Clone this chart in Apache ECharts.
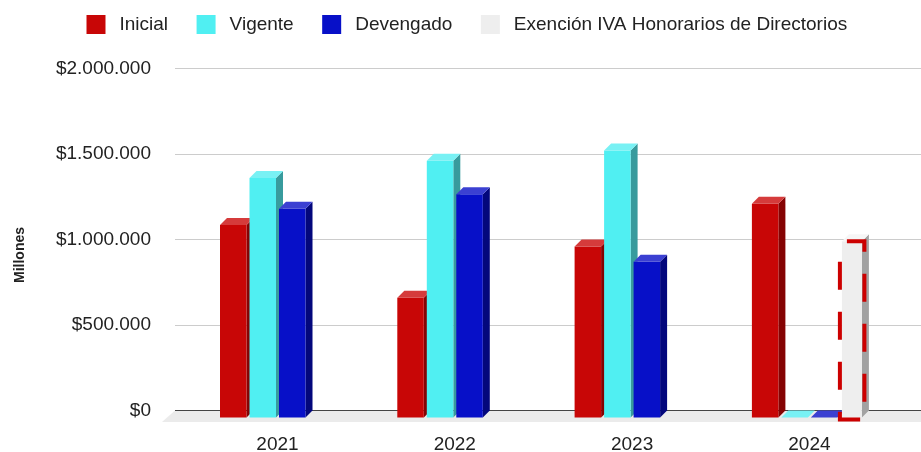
<!DOCTYPE html>
<html>
<head>
<meta charset="utf-8">
<script src="https://cdn.jsdelivr.net/npm/echarts@6/dist/echarts.min.js"></script>
<style>
html,body{margin:0;padding:0;background:#fff;}
#chart{width:921px;height:452px;}
</style>
</head>
<body>
<div id="chart"></div>
<script>
// ---- data ----
const categories = ['2021', '2022', '2023', '2024'];
const seriesNames = ['Inicial', 'Vigente', 'Devengado', 'Exención IVA Honorarios de Directorios'];
const inicial = [1125000, 700000, 1000000, 1250000];
const vigente = [1400000, 1500000, 1560000, 0];
const devengado = [1220000, 1305000, 910000, 0];
const exencion = [null, null, null, 1030000];
const yTicks = [0, 500000, 1000000, 1500000, 2000000];
const axisTitle = 'Millones';

// ---- style ----
const FONT = 'Arial, "Liberation Sans", sans-serif';
const BW = 26.5, GAP = 3, SLOTS = 4, DX = 7, DY = 7;
const GROUP = SLOTS * BW + (SLOTS - 1) * GAP;
const palette = [
  {front: '#c80606', side: '#850303', top: '#d53b3b'},
  {front: '#50eff2', side: '#389b9d', top: '#78f1f4'},
  {front: '#0710c8', side: '#03077c', top: '#3b40d2'},
  {front: '#eeeeee', side: '#a2a2a2', top: '#f6f6f6'}
];

function fmt(v) {
  return '$' + String(v).replace(/\B(?=(\d{3})+(?!\d))/g, '.');
}

function make3D(k, values) {
  const c = palette[k];
  return {
    name: seriesNames[k],
    type: 'custom',
    xAxisIndex: 1, yAxisIndex: 1,
    z: 3,
    itemStyle: {color: c.front},
    encode: {x: 0, y: 1},
    data: values.map((v, i) => [i, v == null ? '-' : v]),
    renderItem: function (params, api) {
      const i = api.value(0), v = api.value(1);
      if (v == null || isNaN(v)) return null;
      const base = api.coord([i, 0]);
      const topP = api.coord([i, v]);
      let x0 = base[0] - GROUP / 2 + k * (BW + GAP);
      let w = BW;
      if (k === 3) { x0 += 1.5; w = 20; }
      const x1 = x0 + w;
      const yb = base[1], yt = topP[1];
      const children = [];
      if (yb - yt > 0.5) {
        children.push({type: 'polygon', shape: {points: [[x1, yt], [x1 + DX, yt - DY], [x1 + DX, yb - DY], [x1, yb]]}, style: {fill: c.side}});
        children.push({type: 'rect', shape: {x: x0, y: yt, width: w, height: yb - yt}, style: {fill: c.front}});
      }
      children.push({type: 'polygon', shape: {points: [[x0, yt], [x0 + DX, yt - DY], [x1 + DX, yt - DY], [x1, yt]]}, style: {fill: c.top}});
      if (k === 3) {
        const l = x0 - 2, r = x0 + w + 2.5, t = yt, b = yb + 2;
        children.push({type: 'polyline', shape: {points: [[l, t], [r, t], [r, b], [l, b], [l, t]]},
          style: {fill: null, stroke: '#cc0000', lineWidth: 4, lineDash: [28, 22], lineDashOffset: 43}});
      }
      return {type: 'group', children: children};
    }
  };
}

const floorSeries = {
  name: 'floor',
  type: 'custom',
  xAxisIndex: 0, yAxisIndex: 0,
  z: 1,
  silent: true,
  data: [[0, 0]],
  renderItem: function (params, api) {
    const cs = params.coordSys;
    const y0 = api.coord([0, 0])[1];
    return {type: 'group', children: [
      {type: 'polygon', shape: {points: [[cs.x, y0], [cs.x + cs.width, y0], [cs.x + cs.width, y0 + 11.5], [cs.x - 13, y0 + 11.5]]}, style: {fill: '#ebebeb'}},
      {type: 'line', shape: {x1: cs.x, y1: y0, x2: cs.x + cs.width, y2: y0}, style: {stroke: '#444', lineWidth: 1}}
    ]};
  }
};

const chart = echarts.init(document.getElementById('chart'), null, {renderer: 'canvas'});
chart.setOption({
  animation: false,
  backgroundColor: '#ffffff',
  textStyle: {fontFamily: FONT},
  legend: {
    data: seriesNames,
    left: 81.5, top: 10,
    icon: 'rect',
    itemWidth: 19, itemHeight: 19, itemGap: 28.5,
    textStyle: {fontSize: 19, color: '#222', fontFamily: FONT, padding: [0, 0, 0, 9]}
  },
  graphic: [{
    type: 'text', x: 20, y: 255, rotation: Math.PI / 2,
    style: {text: axisTitle, font: 'bold 14px ' + FONT, fill: '#222', align: 'center', verticalAlign: 'middle'}
  }],
  grid: [
    {left: 175, right: 0, top: 68.3, bottom: 41.5, outerBoundsMode: 'none'},
    {left: 188.85, right: 22.95, top: 75.3, bottom: 34.5, outerBoundsMode: 'none'}
  ],
  xAxis: [
    {type: 'value', gridIndex: 0, min: 0, max: 1, show: false},
    {type: 'category', gridIndex: 1, data: categories,
      axisLine: {show: false}, axisTick: {show: false}, splitLine: {show: false},
      axisLabel: {fontSize: 19, color: '#222', margin: 18, fontFamily: FONT}}
  ],
  yAxis: [
    {type: 'value', gridIndex: 0, min: yTicks[0], max: yTicks[yTicks.length - 1], interval: yTicks[1] - yTicks[0],
      axisLine: {show: false}, axisTick: {show: false},
      axisLabel: {fontSize: 19, color: '#222', margin: 24, fontFamily: FONT, formatter: fmt},
      splitLine: {lineStyle: {color: '#cccccc', width: 1}}},
    {type: 'value', gridIndex: 1, min: yTicks[0], max: yTicks[yTicks.length - 1], show: false}
  ],
  series: [
    floorSeries,
    make3D(0, inicial),
    make3D(1, vigente),
    make3D(2, devengado),
    make3D(3, exencion)
  ]
});
</script>
</body>
</html>
